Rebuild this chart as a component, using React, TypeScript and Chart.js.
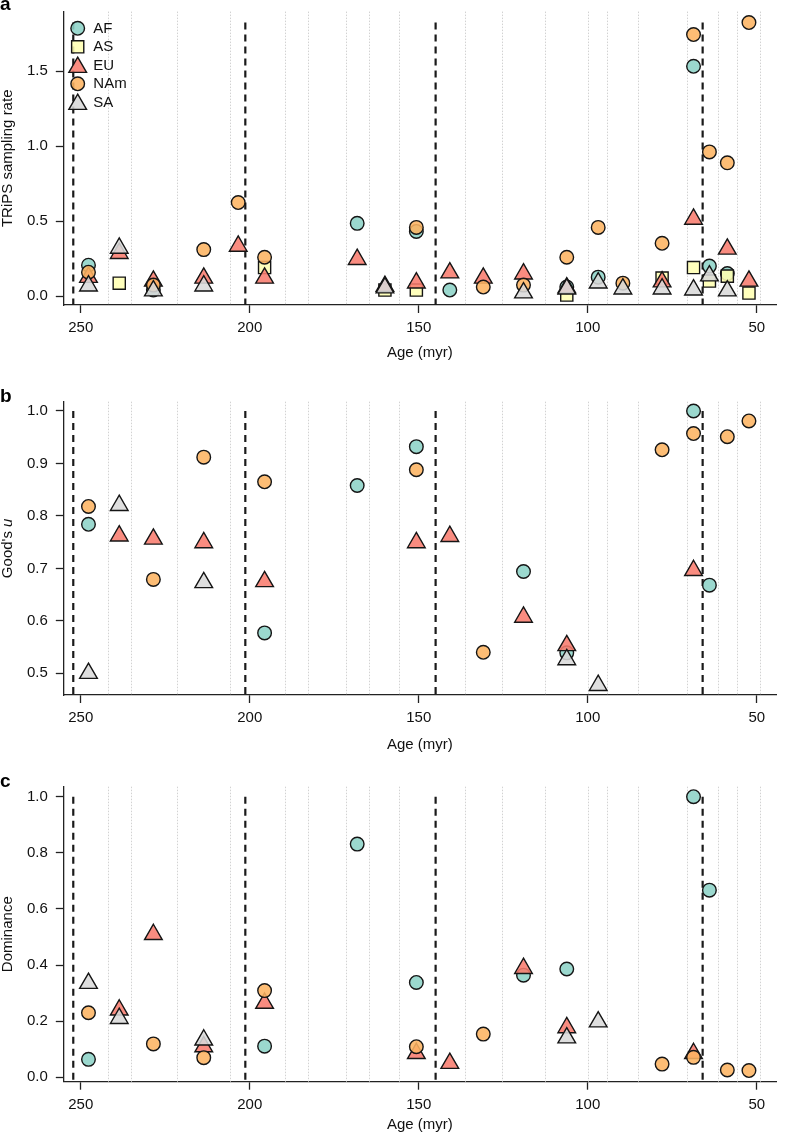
import React, { useEffect, useRef } from 'react';
import { Chart, registerables } from 'chart.js';

Chart.register(...registerables);

const FONT = "'Liberation Sans', Arial, Helvetica, sans-serif";

// ---------------- data ----------------
const N = null;
const ages = [247.7, 238.6, 228.5, 213.6, 203.4, 195.6, 168.2, 160.0, 150.7, 140.8, 130.9, 119.0, 106.2, 96.9, 89.6, 78.0, 68.7, 64.0, 58.7, 52.3];

// panel a: TRiPS sampling rate
const rateAF = [0.206, N, 0.04, N, N, N, 0.485, N, 0.431, 0.04, N, N, 0.06, 0.126, N, N, 1.533, 0.2, 0.15, N];
const rateAS = [N, 0.086, N, N, N, 0.19, N, 0.04, 0.04, N, N, N, 0.007, N, N, 0.12, 0.19, 0.1, 0.133, 0.02];
const rateEU = [0.125, 0.285, 0.1, 0.12, 0.333, 0.12, 0.245, 0.065, 0.088, 0.155, 0.12, 0.148, 0.055, N, N, 0.095, 0.513, N, 0.314, 0.1];
const rateNAm = [0.159, N, 0.073, 0.31, 0.624, 0.259, N, N, 0.458, N, 0.06, 0.073, 0.259, 0.458, 0.086, 0.352, 1.745, 0.962, 0.889, 1.825];
const rateSA = [0.068, 0.32, 0.035, 0.068, N, N, N, 0.055, N, N, N, 0.022, 0.048, 0.088, 0.048, 0.048, 0.041, 0.135, 0.035, N];

// panel b: Good's u
const goodAF = [0.784, N, N, N, N, 0.577, 0.858, N, 0.932, N, N, 0.694, 0.539, N, N, N, 1.0, 0.668, N, N];
const goodAS = [N, N, N, N, N, N, N, N, N, N, N, N, N, N, N, N, N, N, N, N];
const goodEU = [N, 0.762, 0.756, 0.749, N, 0.675, N, N, 0.749, 0.761, N, 0.607, 0.553, N, N, N, 0.696, N, N, N];
const goodNAm = [0.818, N, 0.679, 0.912, N, 0.865, N, N, 0.888, N, 0.54, N, N, N, N, 0.926, 0.957, N, 0.951, 0.981];
const goodSA = [0.5, 0.82, N, 0.673, N, N, N, N, N, N, N, N, 0.526, 0.477, N, N, N, N, N, N];

// panel c: Dominance
const domAF = [0.064, N, N, N, N, 0.111, 0.831, N, 0.338, N, N, 0.364, 0.386, N, N, N, 1.0, 0.667, N, N];
const domAS = [N, N, N, N, N, N, N, N, N, N, N, N, N, N, N, N, N, N, N, N];
const domEU = [N, 0.24, 0.509, 0.109, N, 0.264, N, N, 0.085, 0.05, N, 0.388, 0.177, N, N, N, 0.085, N, N, N];
const domNAm = [0.23, N, 0.119, 0.07, N, 0.309, N, N, 0.109, N, 0.154, N, N, N, N, 0.047, 0.071, N, 0.026, 0.024];
const domSA = [0.335, 0.21, N, 0.133, N, N, N, N, N, N, N, N, 0.141, 0.198, N, N, N, N, N, N];

const xTicks = [250, 200, 150, 100, 50];
const periodBoundaries = [252.2, 201.3, 145.0, 66.0];
const stageBoundaries = [242.0, 235.0, 221.5, 205.7, 189.7, 182.8, 171.5, 164.7, 155.7, 136.2, 125.4, 112.6, 100.0, 94.3, 85.1, 70.7, 61.6, 55.8, 49.0];

const seriesNames = ['AF', 'AS', 'EU', 'NAm', 'SA'];
const seriesStyles = ['circle', 'rect', 'triangle', 'circle', 'triangle'];
const seriesRadius = [6.8, 8.6, 10.2, 6.8, 10.2];
const seriesColors = [
  'rgba(141,211,199,0.88)',
  'rgba(255,255,179,0.88)',
  'rgba(248,124,110,0.88)',
  'rgba(253,180,98,0.88)',
  'rgba(217,217,217,0.88)',
];

type Panel = {
  key: string;
  letter: string;
  top: number;
  height: number;
  chartTop: number;
  chartBottom: number;
  titleY: number;
  yMin: number;
  yMax: number;
  yTicks: number[];
  yTitle: string;
  italicU: boolean;
  legend: boolean;
  series: (number | null)[][];
};

const panels: Panel[] = [
  {
    key: 'a', letter: 'a', top: 0, height: 370, chartTop: 10, chartBottom: 305, titleY: 353,
    yMin: -0.0597, yMax: 1.898, yTicks: [0, 0.5, 1.0, 1.5], yTitle: 'TRiPS sampling rate', italicU: false, legend: true,
    series: [rateAF, rateAS, rateEU, rateNAm, rateSA],
  },
  {
    key: 'b', letter: 'b', top: 370, height: 385, chartTop: 401.7, chartBottom: 695, titleY: 745,
    yMin: 0.4586, yMax: 1.0177, yTicks: [0.5, 0.6, 0.7, 0.8, 0.9, 1.0], yTitle: "Good's u", italicU: true, legend: false,
    series: [goodAF, goodAS, goodEU, goodNAm, goodSA],
  },
  {
    key: 'c', letter: 'c', top: 755, height: 380, chartTop: 786.7, chartBottom: 1081.7, titleY: 1125,
    yMin: -0.0157, yMax: 1.0356, yTicks: [0, 0.2, 0.4, 0.6, 0.8, 1.0], yTitle: 'Dominance', italicU: false, legend: false,
    series: [domAF, domAS, domEU, domNAm, domSA],
  },
];

function drawShape(ctx: CanvasRenderingContext2D, style: string, x: number, y: number, r: number) {
  ctx.beginPath();
  if (style === 'circle') {
    ctx.arc(x, y, r, 0, Math.PI * 2);
  } else if (style === 'rect') {
    const s = r * Math.SQRT1_2;
    ctx.rect(x - s, y - s, 2 * s, 2 * s);
  } else {
    let a = 0;
    ctx.moveTo(x + Math.sin(a) * r, y - Math.cos(a) * r);
    a += (2 * Math.PI) / 3;
    ctx.lineTo(x + Math.sin(a) * r, y - Math.cos(a) * r);
    a += (2 * Math.PI) / 3;
    ctx.lineTo(x + Math.sin(a) * r, y - Math.cos(a) * r);
    ctx.closePath();
  }
  ctx.fill();
  ctx.stroke();
}

function overlayPlugin(p: Panel) {
  return {
    id: 'overlay_' + p.key,
    beforeDatasetsDraw(chart: any) {
      const { ctx, chartArea: ca, scales } = chart;
      const x = scales.x;
      const y = scales.y;
      ctx.save();
      ctx.strokeStyle = '#d2d2d2';
      ctx.lineWidth = 1;
      ctx.setLineDash([1.5, 1.5]);
      for (const b of stageBoundaries) {
        const px = Math.round(x.getPixelForValue(b)) + 0.5;
        ctx.beginPath();
        ctx.moveTo(px, ca.top);
        ctx.lineTo(px, ca.bottom);
        ctx.stroke();
      }
      let maxVal = -Infinity;
      p.series.forEach((s) => s.forEach((v) => { if (v != null && v > maxVal) maxVal = v; }));
      const topPx = y.getPixelForValue(maxVal);
      ctx.strokeStyle = '#1a1a1a';
      ctx.lineWidth = 2.2;
      ctx.setLineDash([7, 5]);
      for (const b of periodBoundaries) {
        const px = x.getPixelForValue(b);
        ctx.beginPath();
        ctx.moveTo(px, topPx);
        ctx.lineTo(px, ca.bottom);
        ctx.stroke();
      }
      ctx.restore();
    },
    afterDraw(chart: any) {
      const { ctx, chartArea: ca } = chart;
      ctx.save();
      // panel letter
      ctx.fillStyle = '#000';
      ctx.font = `bold 19px ${FONT}`;
      ctx.textAlign = 'left';
      ctx.textBaseline = 'alphabetic';
      ctx.fillText(p.letter, 0, p.chartTop - p.top);

      // italic y title
      if (p.italicU) {
        const cy = (ca.top + ca.bottom) / 2;
        ctx.translate(7.5, cy);
        ctx.rotate(-Math.PI / 2);
        ctx.font = `15px ${FONT}`;
        const w1 = ctx.measureText("Good's ").width;
        ctx.font = `italic 15px ${FONT}`;
        const w2 = ctx.measureText('u').width;
        const start = -(w1 + w2) / 2;
        ctx.fillStyle = '#111';
        ctx.textBaseline = 'middle';
        ctx.font = `15px ${FONT}`;
        ctx.fillText("Good's ", start, 0);
        ctx.font = `italic 15px ${FONT}`;
        ctx.fillText('u', start + w1, 0);
        ctx.setTransform(1, 0, 0, 1, 0, 0);
      }

      // legend
      if (p.legend) {
        const lx = 77.7;
        const tx = 93.3;
        const y0 = 28.3;
        const dy = 18.5;
        seriesNames.forEach((name, i) => {
          const ry = y0 + i * dy;
          ctx.fillStyle = seriesColors[i];
          ctx.strokeStyle = '#151515';
          ctx.lineWidth = 1.4;
          ctx.setLineDash([]);
          const sy = seriesStyles[i] === 'triangle' ? ry + 2 : ry;
          drawShape(ctx, seriesStyles[i], lx, sy, seriesRadius[i]);
          ctx.fillStyle = '#111';
          ctx.font = `15px ${FONT}`;
          ctx.textAlign = 'left';
          ctx.textBaseline = 'middle';
          ctx.fillText(name, tx, ry + 0.5);
        });
      }
      ctx.restore();
    },
  };
}

function buildConfig(p: Panel): any {
  const datasets = seriesNames.map((name, si) => ({
    label: name,
    data: ages
      .map((a, i) => ({ x: a, y: p.series[si][i] }))
      .filter((d) => d.y != null),
    pointStyle: seriesStyles[si],
    pointRadius: seriesRadius[si],
    pointHoverRadius: seriesRadius[si],
    pointBackgroundColor: seriesColors[si],
    pointBorderColor: '#151515',
    pointBorderWidth: 1.4,
    pointHoverBorderWidth: 1.4,
    showLine: false,
    order: seriesNames.length - si,
  }));

  const xHeight = p.top + p.height - p.chartBottom;
  const titlePadBottom = p.top + p.height - p.titleY - 7.5;

  return {
    type: 'scatter',
    data: { datasets },
    options: {
      animation: false,
      responsive: false,
      maintainAspectRatio: false,
      devicePixelRatio: 1,
      events: [],
      layout: { padding: { top: p.chartTop - p.top, left: 0, right: 0, bottom: 0 } },
      plugins: { legend: { display: false }, tooltip: { enabled: false } },
      scales: {
        x: {
          type: 'linear',
          reverse: true,
          min: 44.18,
          max: 255.15,
          afterBuildTicks: (s: any) => { s.ticks = xTicks.map((v) => ({ value: v })); },
          afterFit: (s: any) => { s.height = xHeight; s.paddingLeft = 0; s.paddingRight = 0; },
          grid: { display: true, drawOnChartArea: false, drawTicks: true, tickLength: 8, tickWidth: 1.3, tickColor: '#222' },
          border: { display: true, color: '#222', width: 1.3 },
          ticks: {
            font: { size: 15, family: FONT },
            color: '#111',
            padding: 6,
            maxRotation: 0,
            autoSkip: false,
            callback: (v: any) => String(v),
          },
          title: {
            display: true,
            text: 'Age (myr)',
            color: '#111',
            font: { size: 15, family: FONT, lineHeight: 1 },
            padding: { top: 0, bottom: titlePadBottom },
          },
        },
        y: {
          type: 'linear',
          min: p.yMin,
          max: p.yMax,
          afterBuildTicks: (s: any) => { s.ticks = p.yTicks.map((v) => ({ value: v })); },
          afterFit: (s: any) => { s.width = 63.3; s.paddingTop = 0; s.paddingBottom = 0; },
          grid: { display: true, drawOnChartArea: false, drawTicks: true, tickLength: 7.5, tickWidth: 1.3, tickColor: '#222' },
          border: { display: true, color: '#222', width: 1.3 },
          ticks: {
            font: { size: 15, family: FONT },
            color: '#111',
            padding: 8,
            autoSkip: false,
            callback: (v: any) => Number(v).toFixed(1),
          },
          title: p.italicU
            ? { display: false }
            : {
                display: true,
                text: p.yTitle,
                color: '#111',
                font: { size: 15, family: FONT, lineHeight: 1 },
                padding: { top: 0, bottom: 0 },
              },
        },
      },
    },
    plugins: [overlayPlugin(p)],
  };
}

function PanelChart({ p }: { p: Panel }) {
  const ref = useRef<HTMLCanvasElement>(null);
  useEffect(() => {
    const chart = new Chart(ref.current as HTMLCanvasElement, buildConfig(p));
    return () => chart.destroy();
  }, [p]);
  return (
    <canvas
      ref={ref}
      width={788}
      height={p.height}
      style={{ position: 'absolute', left: 0, top: p.top, width: 788, height: p.height, display: 'block' }}
    />
  );
}

export default function App() {
  return (
    <div style={{ position: 'absolute', left: 0, top: 0, width: 788, height: 1135, background: '#fff', overflow: 'hidden' }}>
      {panels.map((p) => (
        <PanelChart key={p.key} p={p} />
      ))}
    </div>
  );
}
